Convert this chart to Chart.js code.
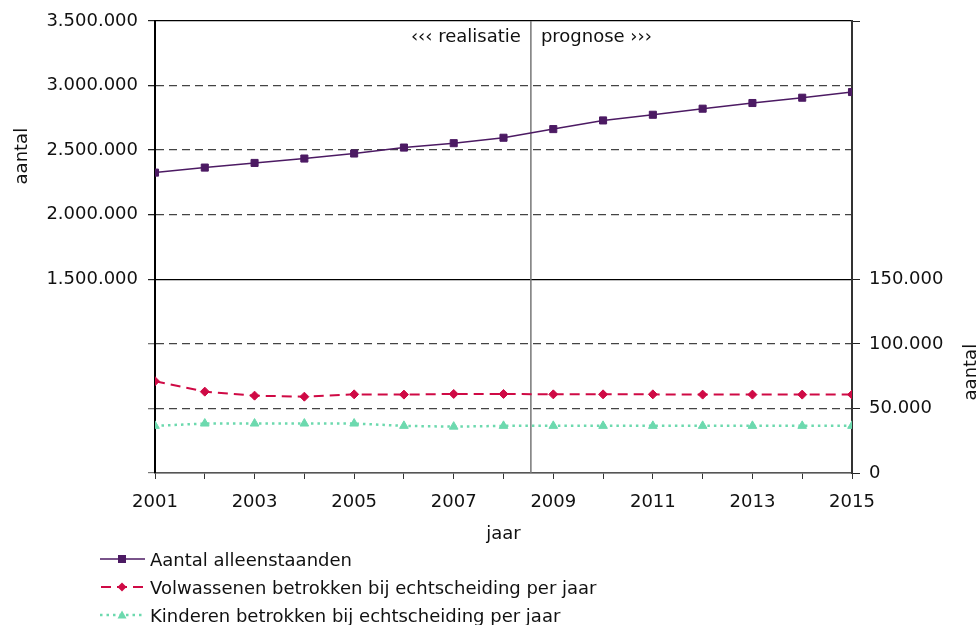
<!DOCTYPE html>
<html lang="nl">
<head>
<meta charset="utf-8">
<title>Alleenstaanden en echtscheidingen</title>
<script src="https://cdn.jsdelivr.net/npm/chart.js@4/dist/chart.umd.min.js"></script>
<style>
  html, body { margin: 0; padding: 0; background: #fff; }
  #wrap { position: relative; width: 978px; height: 625px; font-family: "DejaVu Sans", sans-serif; color: #111; }
  #wrap canvas { position: absolute; left: 0; top: 0; }
  .legend-row { position: absolute; left: 100px; height: 22px; display: flex; align-items: center; font-size: 18px; white-space: nowrap; }
  .legend-row svg { width: 50px; height: 22px; flex: none; }
</style>
</head>
<body>
<div id="wrap">
  <canvas id="chart" width="978" height="625"></canvas>
  <div class="legend-row" style="top:548px">
    <svg viewBox="0 0 50 22"><line x1="0" y1="11" x2="45" y2="11" stroke="#4c1a63" stroke-width="1.5"/><rect x="18" y="7" width="8" height="8" fill="#4c1a63"/></svg>
    <span>Aantal alleenstaanden</span>
  </div>
  <div class="legend-row" style="top:576px">
    <svg viewBox="0 0 50 22"><line x1="0" y1="11" x2="45" y2="11" stroke="#cf0a45" stroke-width="2" stroke-dasharray="10 6" stroke-dashoffset="-1"/><polygon points="22,6.5 26.5,11 22,15.5 17.5,11" fill="#cf0a45"/></svg>
    <span>Volwassenen betrokken bij echtscheiding per jaar</span>
  </div>
  <div class="legend-row" style="top:604px">
    <svg viewBox="0 0 50 22"><line x1="0" y1="11" x2="45" y2="11" stroke="#6cd9ae" stroke-width="2.5" stroke-dasharray="2.5 4"/><polygon points="22,6.5 26.5,14.5 17.5,14.5" fill="#6cd9ae"/></svg>
    <span>Kinderen betrokken bij echtscheiding per jaar</span>
  </div>
</div>

<script>
// ============================================================
// Data
// ============================================================
const years = [2001, 2002, 2003, 2004, 2005, 2006, 2007, 2008, 2009, 2010, 2011, 2012, 2013, 2014, 2015];

const alleenstaanden = [2326000, 2365000, 2401000, 2435000, 2474000, 2520000, 2554000, 2596000,
                        2663000, 2730000, 2774000, 2821000, 2865000, 2906000, 2950000];
const volwassenen = [71100, 63000, 59900, 59100, 60900, 60700, 61200, 61200,
                     60900, 60900, 60900, 60700, 60700, 60700, 60700];
const kinderen = [36500, 38300, 38300, 38300, 38300, 36500, 35900, 36500,
                  36500, 36500, 36500, 36500, 36500, 36500, 36500];

const splitYear = 2008.55;            // grens realisatie / prognose
const leftMax = 3500000;
const rightMax = 350000;
const leftShownFrom = 1500000;        // linker as: labels vanaf 1,5 mln
const rightShownTo = 150000;          // rechter as: labels tot 150.000

// ============================================================
// Helpers
// ============================================================
const fmtNL = (n) => String(Math.round(n)).replace(/\B(?=(\d{3})+(?!\d))/g, ".");
const toPoints = (arr) => years.map((yr, i) => ({ x: yr, y: arr[i] }));

Chart.defaults.font.family = "'DejaVu Sans', sans-serif";
Chart.defaults.font.size = 18;
Chart.defaults.color = "#111";

// ============================================================
// Extra drawing: separator, annotations, axis titles
// ============================================================
const annotations = {
  id: "annotations",
  beforeDatasetsDraw(chart) {
    const { ctx, chartArea, scales } = chart;
    const x = scales.x.getPixelForValue(splitYear);
    ctx.save();
    ctx.strokeStyle = "#777";
    ctx.lineWidth = 1.5;
    ctx.beginPath();
    ctx.moveTo(x, chartArea.top);
    ctx.lineTo(x, chartArea.bottom);
    ctx.stroke();
    ctx.restore();
  },
  afterDraw(chart) {
    const { ctx, chartArea, scales } = chart;
    const x = scales.x.getPixelForValue(splitYear);
    ctx.save();
    ctx.font = "18px 'DejaVu Sans', sans-serif";
    ctx.fillStyle = "#111";
    ctx.textBaseline = "alphabetic";

    ctx.textAlign = "right";
    ctx.fillText("\u2039\u2039\u2039 realisatie", x - 10, chartArea.top + 21);
    ctx.textAlign = "left";
    ctx.fillText("prognose \u203A\u203A\u203A", x + 10, chartArea.top + 21);

    // x title
    ctx.textAlign = "center";
    ctx.fillText("jaar", (chartArea.left + chartArea.right) / 2, 539);

    // left y title, centred on the upper (labelled) part
    const yTopMid = (scales.y.getPixelForValue(leftShownFrom) + chartArea.top) / 2 + 6;
    ctx.save();
    ctx.translate(27, yTopMid);
    ctx.rotate(-Math.PI / 2);
    ctx.fillText("aantal", 0, 0);
    ctx.restore();

    // right y title, centred on the lower part
    const yBotMid = (scales.y2.getPixelForValue(rightShownTo) + chartArea.bottom) / 2 - 4;
    ctx.save();
    ctx.translate(976, yBotMid);
    ctx.rotate(-Math.PI / 2);
    ctx.fillText("aantal", 0, 0);
    ctx.restore();

    ctx.restore();
  },
};

// ============================================================
// Chart
// ============================================================
const isSolid = (v) => v === 0 || v === leftShownFrom || v === leftMax;

new Chart(document.getElementById("chart"), {
  type: "line",
  data: {
    datasets: [
      {
        label: "Aantal alleenstaanden",
        data: toPoints(alleenstaanden),
        yAxisID: "y",
        borderColor: "#4c1a63",
        backgroundColor: "#4c1a63",
        borderWidth: 1.5,
        pointStyle: "rect",
        pointRadius: 5,
        pointBorderWidth: 1,
      },
      {
        label: "Volwassenen betrokken bij echtscheiding per jaar",
        data: toPoints(volwassenen),
        yAxisID: "y2",
        borderColor: "#cf0a45",
        backgroundColor: "#cf0a45",
        borderWidth: 2,
        borderDash: [10, 6],
        pointStyle: "rectRot",
        pointRadius: 4.5,
        pointBorderWidth: 1,
      },
      {
        label: "Kinderen betrokken bij echtscheiding per jaar",
        data: toPoints(kinderen),
        yAxisID: "y2",
        borderColor: "#6cd9ae",
        backgroundColor: "#6cd9ae",
        borderWidth: 2.5,
        borderDash: [2.5, 4],
        pointStyle: "triangle",
        pointRadius: 5,
        pointBorderWidth: 1,
      },
    ],
  },
  options: {
    responsive: false,
    animation: false,
    layout: { padding: { top: 21, left: 0, right: 0, bottom: 0 } },
    plugins: { legend: { display: false }, tooltip: { enabled: false } },
    scales: {
      x: {
        type: "linear",
        min: 2001,
        max: 2015,
        afterFit: (s) => { s.height = 152; },
        ticks: {
          stepSize: 1,
          autoSkip: false,
          maxRotation: 0,
          padding: 13,
          callback: (v) => ((v - 2001) % 2 === 0 ? String(v) : ""),
        },
        grid: { drawOnChartArea: false, drawTicks: true, tickLength: 6, tickColor: "#333" },
        border: { color: "#555", width: 1.5 },
      },
      y: {
        position: "left",
        min: 0,
        max: leftMax,
        afterFit: (s) => { s.width = 155; },
        ticks: {
          stepSize: 500000,
          padding: 10,
          callback: (v) => (v >= leftShownFrom ? fmtNL(v) : ""),
        },
        grid: {
          color: (c) => (c.tick && isSolid(c.tick.value) ? (c.tick.value === 0 ? "#666" : "#000") : "#444"),
          lineWidth: (c) => (c.tick && isSolid(c.tick.value) ? 1.2 : 1.3),
          tickLength: 7,
          tickColor: (c) => (c.tick && c.tick.value < leftShownFrom ? "#777" : "#222"),
        },
        border: {
          color: "#000",
          width: 2,
          dash: (c) => (c.tick && !isSolid(c.tick.value) ? [8, 5] : []),
        },
      },
      y2: {
        position: "right",
        min: 0,
        max: rightMax,
        afterFit: (s) => { s.width = 126; },
        afterBuildTicks: (s) => {
          s.ticks = s.ticks.filter((t) => t.value <= rightShownTo || t.value === rightMax);
        },
        ticks: {
          stepSize: 50000,
          padding: 9,
          callback: (v) => (v <= rightShownTo ? fmtNL(v) : ""),
        },
        grid: { drawOnChartArea: false, drawTicks: true, tickLength: 8, tickColor: "#222" },
        border: { color: "#333", width: 2 },
      },
    },
  },
  plugins: [annotations],
});
</script>
</body>
</html>
